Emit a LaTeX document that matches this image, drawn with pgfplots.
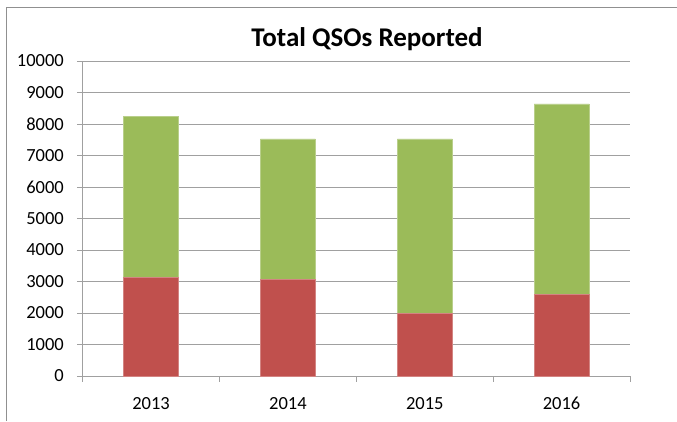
\documentclass[border=0pt]{standalone}
\usepackage{pgfplots}
\pgfplotsset{compat=1.18}
\usepackage{fontspec}
\setmainfont{Carlito}
\definecolor{exred}{HTML}{C0504D}
\definecolor{exgreen}{HTML}{9BBB59}
\definecolor{gridgray}{HTML}{A0A0A0}
\definecolor{framegray}{HTML}{909090}
\begin{document}
\begin{tikzpicture}
\useasboundingbox (-82.7pt,-45pt) rectangle (594.3pt,376pt);
\draw[framegray, line width=1pt] (-75.7pt,-45pt) -- (-75.7pt,368.7pt) -- (594.3pt,368.7pt);
\begin{axis}[
  at={(0pt,0pt)}, anchor=south west,
  scale only axis, width=547.3pt, height=315pt,
  ybar stacked, bar width=55pt,
  xmin=-0.5, xmax=3.5, ymin=0, ymax=10000,
  xtick={-0.5,0.5,1.5,2.5,3.5}, xticklabels={},
  extra x ticks={0,1,2,3}, extra x tick labels={2013,2014,2015,2016},
  extra x tick style={major tick length=0pt},
  ytick={0,1000,...,10000},
  ymajorgrids, major grid style={gridgray, line width=1pt},
  axis x line*=bottom, axis y line*=left,
  axis line style={gridgray, line width=1pt},
  tick style={gridgray, line width=1pt},
  tick align=outside,
  major tick length=5.7pt,
  scaled y ticks=false,
  /pgf/number format/assume math mode=true,
  /pgf/number format/1000 sep={},
  tick label style={font=\fontsize{18.5}{22}\selectfont, text=black},
  xticklabel style={anchor=base, yshift=-33pt},
  yticklabel style={anchor=east, inner sep=0pt, xshift=-13pt},
]
\addplot[fill=exred, draw=exred!70!white, line width=0.5pt] coordinates {(0,3120) (1,3065) (2,1980) (3,2590)};
\addplot[fill=exgreen, draw=exgreen!70!white, line width=0.5pt] coordinates {(0,5125) (1,4460) (2,5545) (3,6045)};
\end{axis}
\node[font=\bfseries\fontsize{27}{31}\selectfont, anchor=center] at (284.3pt,337pt) {Total QSOs Reported};
\end{tikzpicture}
\end{document}
